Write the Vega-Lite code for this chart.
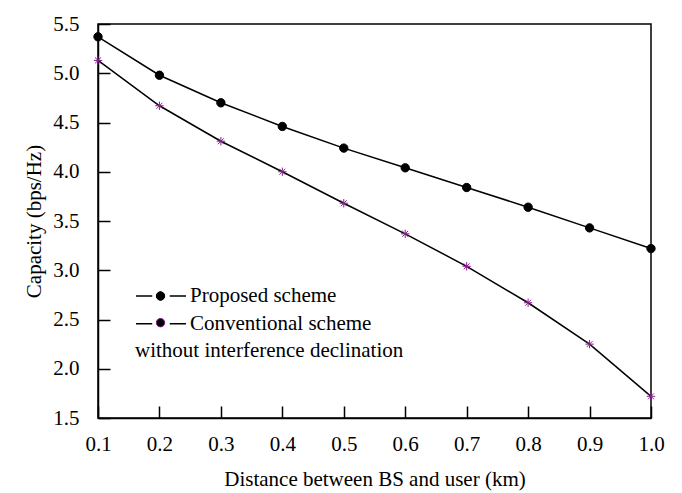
{
  "$schema": "https://vega.github.io/schema/vega-lite/v6.json",
  "width": 553,
  "height": 394,
  "autosize": {"type": "none"},
  "padding": {"left": 98, "top": 24, "right": 31, "bottom": 75},
  "background": "white",
  "config": {
    "view": {"stroke": "black", "strokeWidth": 1.5},
    "axis": {
      "labelFont": "Liberation Serif", "titleFont": "Liberation Serif",
      "labelFontSize": 21, "titleFontSize": 21, "titleFontWeight": "normal",
      "labelColor": "black", "titleColor": "black", "domainColor": "black", "tickColor": "black",
      "domainWidth": 1.5, "tickWidth": 1.5, "grid": false, "labelFlush": false, "labelOverlap": false
    }
  },
  "data": {"values": [
    {"d": 0.1, "c": 5.37, "series": "Proposed scheme"},
    {"d": 0.2, "c": 4.98, "series": "Proposed scheme"},
    {"d": 0.3, "c": 4.70, "series": "Proposed scheme"},
    {"d": 0.4, "c": 4.46, "series": "Proposed scheme"},
    {"d": 0.5, "c": 4.24, "series": "Proposed scheme"},
    {"d": 0.6, "c": 4.04, "series": "Proposed scheme"},
    {"d": 0.7, "c": 3.84, "series": "Proposed scheme"},
    {"d": 0.8, "c": 3.64, "series": "Proposed scheme"},
    {"d": 0.9, "c": 3.43, "series": "Proposed scheme"},
    {"d": 1.0, "c": 3.22, "series": "Proposed scheme"},
    {"d": 0.1, "c": 5.13, "series": "Conventional scheme"},
    {"d": 0.2, "c": 4.67, "series": "Conventional scheme"},
    {"d": 0.3, "c": 4.31, "series": "Conventional scheme"},
    {"d": 0.4, "c": 4.00, "series": "Conventional scheme"},
    {"d": 0.5, "c": 3.68, "series": "Conventional scheme"},
    {"d": 0.6, "c": 3.37, "series": "Conventional scheme"},
    {"d": 0.7, "c": 3.04, "series": "Conventional scheme"},
    {"d": 0.8, "c": 2.67, "series": "Conventional scheme"},
    {"d": 0.9, "c": 2.25, "series": "Conventional scheme"},
    {"d": 1.0, "c": 1.72, "series": "Conventional scheme"}
  ]},
  "layer": [
    {
      "mark": {"type": "line", "strokeWidth": 1.5},
      "encoding": {
        "x": {"field": "d", "type": "quantitative",
          "scale": {"domain": [0.1, 1.0], "nice": false, "zero": false},
          "axis": {"orient": "bottom", "title": "Distance between BS and user (km)",
            "values": [0.1,0.15,0.2,0.25,0.3,0.35,0.4,0.45,0.5,0.55,0.6,0.65,0.7,0.75,0.8,0.85,0.9,0.95,1.0],
            "labelExpr": "abs(datum.value*10 - round(datum.value*10)) < 0.01 ? format(datum.value, '.1f') : ''",
            "tickSize": -12, "labelPadding": 27, "titlePadding": 14,
            "tickDash": {"condition": {"test": "abs(datum.value*10 - round(datum.value*10)) < 0.01", "value": [20, 1]}, "value": [6, 30]}}},
        "y": {"field": "c", "type": "quantitative",
          "scale": {"domain": [1.5, 5.5], "nice": false, "zero": false},
          "axis": {"orient": "left", "title": "Capacity (bps/Hz)",
            "values": [1.5,1.75,2.0,2.25,2.5,2.75,3.0,3.25,3.5,3.75,4.0,4.25,4.5,4.75,5.0,5.25,5.5],
            "labelExpr": "abs(datum.value*2 - round(datum.value*2)) < 0.01 ? format(datum.value, '.1f') : ''",
            "tickSize": -12, "labelPadding": 31, "titlePadding": 8,
            "tickDash": {"condition": {"test": "abs(datum.value*2 - round(datum.value*2)) < 0.01", "value": [20, 1]}, "value": [6, 30]}}},
        "color": {"field": "series", "type": "nominal",
          "scale": {"domain": ["Proposed scheme", "Conventional scheme"], "range": ["black", "black"]},
          "legend": {
            "orient": "none", "legendX": 37, "legendY": 262, "padding": 0,
            "title": "without interference declination", "titleOrient": "bottom", "titleAnchor": "start",
            "titleFont": "Liberation Serif", "titleFontSize": 21, "titleFontWeight": "normal", "titleColor": "black",
            "titlePadding": 6, "titleLimit": 500,
            "labelFont": "Liberation Serif", "labelFontSize": 21, "labelColor": "black", "labelLimit": 500,
            "labelOffset": 3,
            "symbolType": "M-1,0L-0.35,0M0.35,0L1,0", "symbolSize": 2500, "symbolStrokeWidth": 1.5,
            "rowPadding": 6.7, "clipHeight": 20
          }}
      }
    },
    {
      "mark": {"type": "point", "filled": true, "opacity": 1, "strokeWidth": 1},
      "encoding": {
        "x": {"field": "d", "type": "quantitative"},
        "y": {"field": "c", "type": "quantitative"},
        "shape": {"field": "series", "type": "nominal", "sort": ["Proposed scheme", "Conventional scheme"],
          "scale": {"range": ["circle", "M-1,0L1,0M0,-1L0,1M-0.7,-0.7L0.7,0.7M-0.7,0.7L0.7,-0.7"]},
          "legend": {"orient": "none", "legendX": 57.5, "legendY": 262, "padding": 0, "title": null,
            "labelExpr": "''", "symbolSize": 70, "symbolStrokeWidth": 1,
            "rowPadding": 6.7, "clipHeight": 20}},
        "fill": {"field": "series", "type": "nominal", "sort": ["Proposed scheme", "Conventional scheme"],
          "scale": {"range": ["black", "#8a1f8f"]},
          "legend": {"orient": "none", "legendX": 57.5, "legendY": 262, "padding": 0, "title": null,
            "labelExpr": "''", "symbolSize": 70, "symbolStrokeWidth": 1,
            "rowPadding": 6.7, "clipHeight": 20}},
        "stroke": {"field": "series", "type": "nominal", "sort": ["Proposed scheme", "Conventional scheme"],
          "scale": {"range": ["black", "#8a1f8f"]},
          "legend": {"orient": "none", "legendX": 57.5, "legendY": 262, "padding": 0, "title": null,
            "labelExpr": "''", "symbolSize": 70, "symbolStrokeWidth": 1,
            "rowPadding": 6.7, "clipHeight": 20}},
        "size": {"value": 70}
      }
    }
  ]
}
